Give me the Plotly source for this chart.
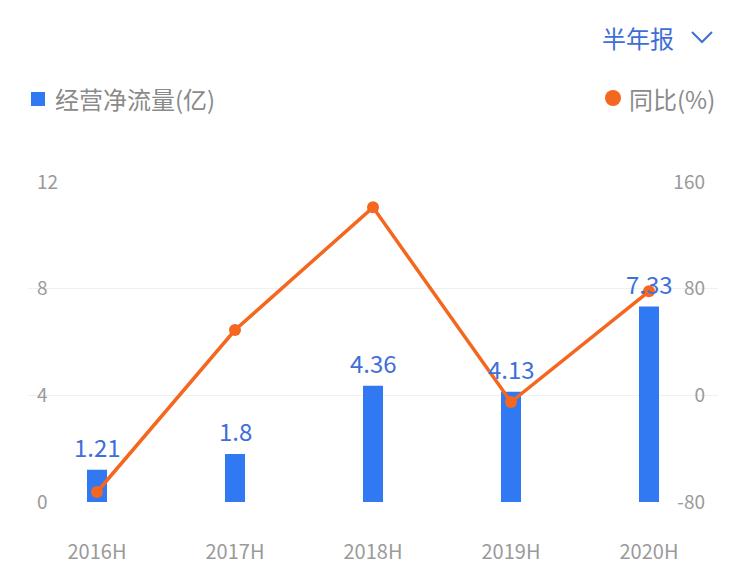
import plotly.graph_objects as go

categories = ["2016H", "2017H", "2018H", "2019H", "2020H"]
cash_flow = [1.21, 1.8, 4.36, 4.13, 7.33]
yoy_pct = [-72.5, 49, 141, -5, 78]
left_ticks = [0, 4, 8, 12]
right_ticks = [-80, 0, 80, 160]
right_tick_labels = ["-80", "0", "80", "160"]

BLUE = "#3178F3"
TEXT_BLUE = "#3D6FD9"
ORANGE = "#F4671F"
GRAY = "#9A9A9A"
LEG_GRAY = "#8A8A8A"
FONT = "Noto Sans CJK SC"

# the page body adds an 8px offset; the figure is sized to fit the window
OFF = 8
W, H = 756 - OFF, 566 - OFF
L, R, T, B = 28 - OFF, 718 - OFF, 182 - OFF, 502 - OFF


def px(x):
    return (x - OFF - L) / (R - L)


def py(y):
    return (B - (y - OFF)) / (B - T)


fig = go.Figure()
fig.add_trace(go.Bar(
    x=categories, y=cash_flow, name="经营净流量(亿)",
    marker=dict(color=BLUE, line=dict(width=0)), width=0.145,
    yaxis="y", hoverinfo="skip", showlegend=False,
))
fig.add_trace(go.Scatter(
    x=categories, y=yoy_pct, name="同比(%)", mode="lines+markers",
    line=dict(color=ORANGE, width=3.5), marker=dict(color=ORANGE, size=12),
    yaxis="y2", showlegend=False, cliponaxis=False,
))

for c, v in zip(categories, cash_flow):
    fig.add_annotation(
        x=c, y=v, xref="x", yref="y", text=f"{v:g}", showarrow=False,
        yanchor="bottom", yshift=4, font=dict(family=FONT, size=24, color=TEXT_BLUE),
    )

# period selector
fig.add_annotation(
    x=px(676), y=py(37), xref="paper", yref="paper", xanchor="right", yanchor="middle",
    text="半年报", showarrow=False, font=dict(family=FONT, size=24, color=TEXT_BLUE),
)
fig.add_shape(
    type="path", xref="paper", yref="paper",
    path=f"M {px(692)} {py(32)} L {px(702)} {py(42)} L {px(712)} {py(32)}",
    line=dict(color=TEXT_BLUE, width=2),
)

# legend
fig.add_shape(
    type="rect", xref="paper", yref="paper",
    x0=px(31), x1=px(45), y0=py(92), y1=py(106),
    fillcolor=BLUE, line=dict(width=0),
)
fig.add_annotation(
    x=px(53), y=py(98), xref="paper", yref="paper", xanchor="left", yanchor="middle",
    text="经营净流量(亿)", showarrow=False, font=dict(family=FONT, size=24, color=LEG_GRAY),
)
fig.add_shape(
    type="circle", xref="paper", yref="paper",
    x0=px(605), x1=px(621), y0=py(90), y1=py(106),
    fillcolor=ORANGE, line=dict(width=0),
)
fig.add_annotation(
    x=px(717), y=py(98), xref="paper", yref="paper", xanchor="right", yanchor="middle",
    text="同比(%)", showarrow=False, font=dict(family=FONT, size=24, color=LEG_GRAY),
)

axis_common = dict(showline=False, zeroline=False, ticks="", fixedrange=True)
fig.update_layout(
    width=W, height=H,
    margin=dict(l=L, r=W - R, t=T, b=H - B, pad=0, autoexpand=False),
    paper_bgcolor="white", plot_bgcolor="white",
    font=dict(family=FONT, color=GRAY, size=18),
    showlegend=False,
    xaxis=dict(
        **axis_common, showgrid=False, type="category", range=[-0.5, 4.5],
        tickfont=dict(family=FONT, size=20, color=GRAY), ticklabelstandoff=36,
    ),
    yaxis=dict(
        **axis_common, range=[0, 12], tickvals=left_ticks, showgrid=True,
        gridcolor="#F0F0F0", gridwidth=1, ticklabelposition="inside",
        ticklabeloverflow="allow", ticklabelstandoff=6,
        tickfont=dict(family=FONT, size=19, color=GRAY),
    ),
    yaxis2=dict(
        **axis_common, range=[-80, 160], tickvals=right_ticks, ticktext=right_tick_labels,
        overlaying="y", side="right", showgrid=False, ticklabelposition="inside",
        ticklabeloverflow="allow", ticklabelstandoff=10,
        tickfont=dict(family=FONT, size=19, color=GRAY),
    ),
)

fig.write_html("out.html")
